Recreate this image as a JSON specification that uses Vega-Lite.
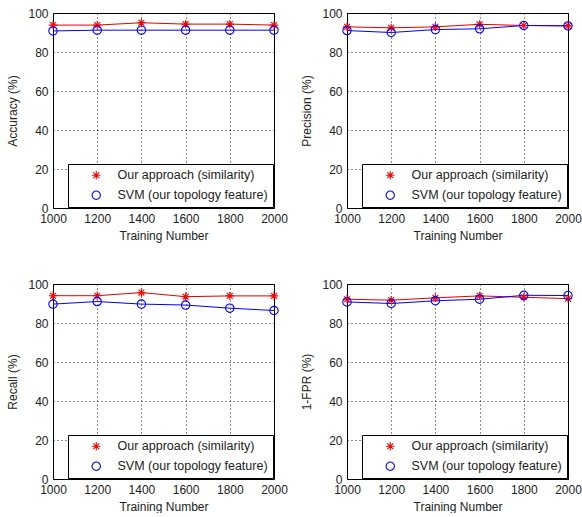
{
  "$schema": "https://vega.github.io/schema/vega-lite/v6.json",
  "background": "white",
  "padding": {"left": 6, "top": 6, "right": 0, "bottom": 0},
  "datasets": {
    "perf": [
      {"metric": "Accuracy", "n": 1000, "method": "Our approach (similarity)", "value": 93.8},
      {"metric": "Accuracy", "n": 1200, "method": "Our approach (similarity)", "value": 93.8},
      {"metric": "Accuracy", "n": 1400, "method": "Our approach (similarity)", "value": 95.0},
      {"metric": "Accuracy", "n": 1600, "method": "Our approach (similarity)", "value": 94.3},
      {"metric": "Accuracy", "n": 1800, "method": "Our approach (similarity)", "value": 94.3},
      {"metric": "Accuracy", "n": 2000, "method": "Our approach (similarity)", "value": 93.8},
      {"metric": "Accuracy", "n": 1000, "method": "SVM (our topology feature)", "value": 90.8},
      {"metric": "Accuracy", "n": 1200, "method": "SVM (our topology feature)", "value": 91.2},
      {"metric": "Accuracy", "n": 1400, "method": "SVM (our topology feature)", "value": 91.2},
      {"metric": "Accuracy", "n": 1600, "method": "SVM (our topology feature)", "value": 91.2},
      {"metric": "Accuracy", "n": 1800, "method": "SVM (our topology feature)", "value": 91.2},
      {"metric": "Accuracy", "n": 2000, "method": "SVM (our topology feature)", "value": 91.2},
      {"metric": "Precision", "n": 1000, "method": "Our approach (similarity)", "value": 92.9},
      {"metric": "Precision", "n": 1200, "method": "Our approach (similarity)", "value": 92.4},
      {"metric": "Precision", "n": 1400, "method": "Our approach (similarity)", "value": 92.9},
      {"metric": "Precision", "n": 1600, "method": "Our approach (similarity)", "value": 94.2},
      {"metric": "Precision", "n": 1800, "method": "Our approach (similarity)", "value": 93.6},
      {"metric": "Precision", "n": 2000, "method": "Our approach (similarity)", "value": 93.4},
      {"metric": "Precision", "n": 1000, "method": "SVM (our topology feature)", "value": 91.0},
      {"metric": "Precision", "n": 1200, "method": "SVM (our topology feature)", "value": 90.0},
      {"metric": "Precision", "n": 1400, "method": "SVM (our topology feature)", "value": 91.5},
      {"metric": "Precision", "n": 1600, "method": "SVM (our topology feature)", "value": 91.9},
      {"metric": "Precision", "n": 1800, "method": "SVM (our topology feature)", "value": 93.6},
      {"metric": "Precision", "n": 2000, "method": "SVM (our topology feature)", "value": 93.4},
      {"metric": "Recall", "n": 1000, "method": "Our approach (similarity)", "value": 94.0},
      {"metric": "Recall", "n": 1200, "method": "Our approach (similarity)", "value": 94.0},
      {"metric": "Recall", "n": 1400, "method": "Our approach (similarity)", "value": 95.6},
      {"metric": "Recall", "n": 1600, "method": "Our approach (similarity)", "value": 93.5},
      {"metric": "Recall", "n": 1800, "method": "Our approach (similarity)", "value": 93.9},
      {"metric": "Recall", "n": 2000, "method": "Our approach (similarity)", "value": 93.9},
      {"metric": "Recall", "n": 1000, "method": "SVM (our topology feature)", "value": 89.7},
      {"metric": "Recall", "n": 1200, "method": "SVM (our topology feature)", "value": 91.0},
      {"metric": "Recall", "n": 1400, "method": "SVM (our topology feature)", "value": 89.7},
      {"metric": "Recall", "n": 1600, "method": "SVM (our topology feature)", "value": 89.2},
      {"metric": "Recall", "n": 1800, "method": "SVM (our topology feature)", "value": 87.6},
      {"metric": "Recall", "n": 2000, "method": "SVM (our topology feature)", "value": 86.4},
      {"metric": "1-FPR", "n": 1000, "method": "Our approach (similarity)", "value": 92.2},
      {"metric": "1-FPR", "n": 1200, "method": "Our approach (similarity)", "value": 91.7},
      {"metric": "1-FPR", "n": 1400, "method": "Our approach (similarity)", "value": 92.9},
      {"metric": "1-FPR", "n": 1600, "method": "Our approach (similarity)", "value": 93.9},
      {"metric": "1-FPR", "n": 1800, "method": "Our approach (similarity)", "value": 93.2},
      {"metric": "1-FPR", "n": 2000, "method": "Our approach (similarity)", "value": 92.5},
      {"metric": "1-FPR", "n": 1000, "method": "SVM (our topology feature)", "value": 90.8},
      {"metric": "1-FPR", "n": 1200, "method": "SVM (our topology feature)", "value": 90.0},
      {"metric": "1-FPR", "n": 1400, "method": "SVM (our topology feature)", "value": 91.4},
      {"metric": "1-FPR", "n": 1600, "method": "SVM (our topology feature)", "value": 92.2},
      {"metric": "1-FPR", "n": 1800, "method": "SVM (our topology feature)", "value": 94.2},
      {"metric": "1-FPR", "n": 2000, "method": "SVM (our topology feature)", "value": 94.1}
    ]
  },
  "data": {"name": "perf"},
  "columns": 2,
  "spacing": {"row": 76, "column": 73},
  "bounds": "flush",
  "resolve": {
    "scale": {"color": "independent", "shape": "independent"},
    "legend": {"color": "independent", "shape": "independent"}
  },
  "concat": [
    {
      "width": 221, "height": 195,
      "transform": [{"filter": "datum.metric === 'Accuracy'"}],
      "encoding": {
        "x": {"field": "n", "type": "quantitative", "scale": {"domain": [1000, 2000], "nice": false, "zero": false}, "axis": {"values": [1000, 1200, 1400, 1600, 1800, 2000], "format": "d", "title": "Training Number"}},
        "y": {"field": "value", "type": "quantitative", "scale": {"domain": [0, 100], "nice": false}, "axis": {"values": [0, 20, 40, 60, 80, 100], "title": "Accuracy (%)"}}
      },
      "layer": [
        {"mark": {"type": "line", "strokeWidth": 1}, "encoding": {"detail": {"field": "method"}, "color": {"condition": {"test": "datum.method === 'SVM (our topology feature)'", "value": "#0000ff"}, "value": "#e00000"}}},
        {"mark": {"type": "point", "filled": false, "strokeWidth": 1.1, "size": 70, "opacity": 1}, "encoding": {
          "color": {"field": "method", "type": "nominal", "scale": {"domain": ["Our approach (similarity)", "SVM (our topology feature)"], "range": ["#ff0000", "#0000ff"]}, "legend": {"title": null}},
          "shape": {"field": "method", "type": "nominal", "scale": {"domain": ["Our approach (similarity)", "SVM (our topology feature)"], "range": ["M-1,0H1M0,-1V1M-0.7,-0.7L0.7,0.7M-0.7,0.7L0.7,-0.7", "circle"]}, "legend": {"title": null}}
        }}
      ]
    },
    {
      "width": 221, "height": 195,
      "transform": [{"filter": "datum.metric === 'Precision'"}],
      "encoding": {
        "x": {"field": "n", "type": "quantitative", "scale": {"domain": [1000, 2000], "nice": false, "zero": false}, "axis": {"values": [1000, 1200, 1400, 1600, 1800, 2000], "format": "d", "title": "Training Number"}},
        "y": {"field": "value", "type": "quantitative", "scale": {"domain": [0, 100], "nice": false}, "axis": {"values": [0, 20, 40, 60, 80, 100], "title": "Precision (%)"}}
      },
      "layer": [
        {"mark": {"type": "line", "strokeWidth": 1}, "encoding": {"detail": {"field": "method"}, "color": {"condition": {"test": "datum.method === 'SVM (our topology feature)'", "value": "#0000ff"}, "value": "#e00000"}}},
        {"mark": {"type": "point", "filled": false, "strokeWidth": 1.1, "size": 70, "opacity": 1}, "encoding": {
          "color": {"field": "method", "type": "nominal", "scale": {"domain": ["Our approach (similarity)", "SVM (our topology feature)"], "range": ["#ff0000", "#0000ff"]}, "legend": {"title": null}},
          "shape": {"field": "method", "type": "nominal", "scale": {"domain": ["Our approach (similarity)", "SVM (our topology feature)"], "range": ["M-1,0H1M0,-1V1M-0.7,-0.7L0.7,0.7M-0.7,0.7L0.7,-0.7", "circle"]}, "legend": {"title": null}}
        }}
      ]
    },
    {
      "width": 221, "height": 195,
      "transform": [{"filter": "datum.metric === 'Recall'"}],
      "encoding": {
        "x": {"field": "n", "type": "quantitative", "scale": {"domain": [1000, 2000], "nice": false, "zero": false}, "axis": {"values": [1000, 1200, 1400, 1600, 1800, 2000], "format": "d", "title": "Training Number"}},
        "y": {"field": "value", "type": "quantitative", "scale": {"domain": [0, 100], "nice": false}, "axis": {"values": [0, 20, 40, 60, 80, 100], "title": "Recall (%)"}}
      },
      "layer": [
        {"mark": {"type": "line", "strokeWidth": 1}, "encoding": {"detail": {"field": "method"}, "color": {"condition": {"test": "datum.method === 'SVM (our topology feature)'", "value": "#0000ff"}, "value": "#e00000"}}},
        {"mark": {"type": "point", "filled": false, "strokeWidth": 1.1, "size": 70, "opacity": 1}, "encoding": {
          "color": {"field": "method", "type": "nominal", "scale": {"domain": ["Our approach (similarity)", "SVM (our topology feature)"], "range": ["#ff0000", "#0000ff"]}, "legend": {"title": null}},
          "shape": {"field": "method", "type": "nominal", "scale": {"domain": ["Our approach (similarity)", "SVM (our topology feature)"], "range": ["M-1,0H1M0,-1V1M-0.7,-0.7L0.7,0.7M-0.7,0.7L0.7,-0.7", "circle"]}, "legend": {"title": null}}
        }}
      ]
    },
    {
      "width": 221, "height": 195,
      "transform": [{"filter": "datum.metric === '1-FPR'"}],
      "encoding": {
        "x": {"field": "n", "type": "quantitative", "scale": {"domain": [1000, 2000], "nice": false, "zero": false}, "axis": {"values": [1000, 1200, 1400, 1600, 1800, 2000], "format": "d", "title": "Training Number"}},
        "y": {"field": "value", "type": "quantitative", "scale": {"domain": [0, 100], "nice": false}, "axis": {"values": [0, 20, 40, 60, 80, 100], "title": "1-FPR (%)"}}
      },
      "layer": [
        {"mark": {"type": "line", "strokeWidth": 1}, "encoding": {"detail": {"field": "method"}, "color": {"condition": {"test": "datum.method === 'SVM (our topology feature)'", "value": "#0000ff"}, "value": "#e00000"}}},
        {"mark": {"type": "point", "filled": false, "strokeWidth": 1.1, "size": 70, "opacity": 1}, "encoding": {
          "color": {"field": "method", "type": "nominal", "scale": {"domain": ["Our approach (similarity)", "SVM (our topology feature)"], "range": ["#ff0000", "#0000ff"]}, "legend": {"title": null}},
          "shape": {"field": "method", "type": "nominal", "scale": {"domain": ["Our approach (similarity)", "SVM (our topology feature)"], "range": ["M-1,0H1M0,-1V1M-0.7,-0.7L0.7,0.7M-0.7,0.7L0.7,-0.7", "circle"]}, "legend": {"title": null}}
        }}
      ]
    }
  ],
  "config": {
    "view": {"stroke": "black", "strokeWidth": 1},
    "font": "Liberation Sans",
    "axis": {
      "domain": false, "ticks": false,
      "grid": true, "gridColor": "black", "gridDash": [1, 3], "gridOpacity": 0.9, "gridWidth": 1,
      "labelFont": "Liberation Sans", "labelFontSize": 12, "labelColor": "#222",
      "labelFlush": false, "labelOverlap": false, "labelPadding": 5,
      "titleFont": "Liberation Sans", "titleFontSize": 12, "titleFontWeight": "normal", "titleColor": "#222"
    },
    "axisX": {"titlePadding": 6},
    "axisY": {"titlePadding": 8},
    "legend": {
      "orient": "bottom-right", "offset": 1,
      "fillColor": "white", "strokeColor": "black", "padding": 5,
      "labelFont": "Liberation Sans", "labelFontSize": 12.5, "labelColor": "#222", "labelLimit": 300,
      "symbolSize": 70, "symbolStrokeWidth": 1.1, "rowPadding": 6,
      "symbolOffset": 17, "labelOffset": 15
    }
  }
}
